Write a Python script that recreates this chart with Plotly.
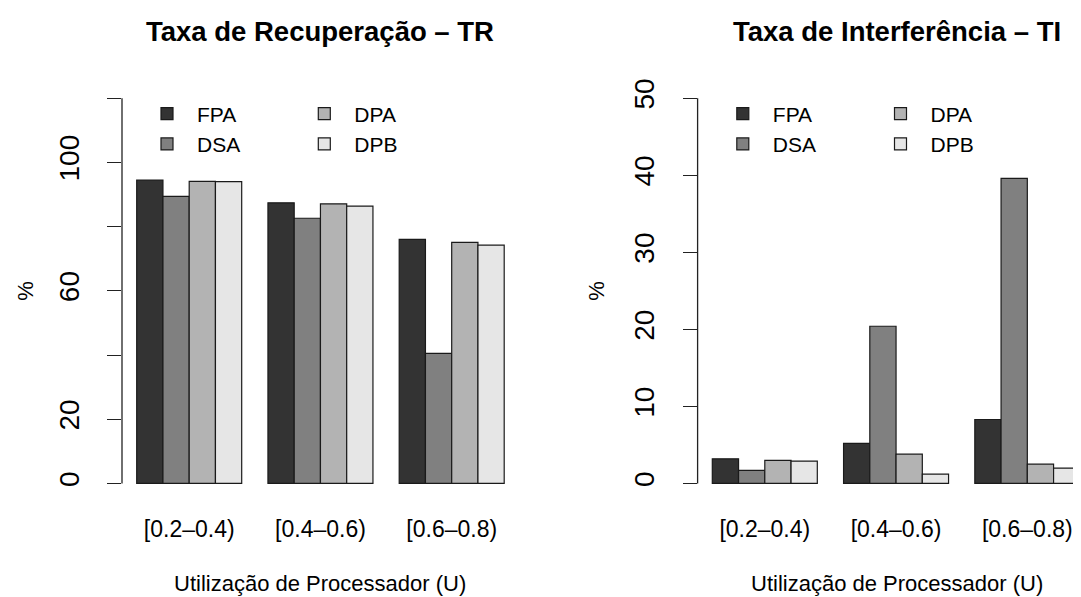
import plotly.graph_objects as go

# ---- data ----
categories = ["[0.2–0.4)", "[0.4–0.6)", "[0.6–0.8)"]
series = ["FPA", "DSA", "DPA", "DPB"]

tr_FPA = [94.5, 87.4, 76.0]
tr_DSA = [89.4, 82.6, 40.5]
tr_DPA = [94.1, 87.1, 75.1]
tr_DPB = [94.0, 86.4, 74.2]

ti_FPA = [3.2, 5.2, 8.3]
ti_DSA = [1.7, 20.4, 39.6]
ti_DPA = [3.0, 3.8, 2.5]
ti_DPB = [2.9, 1.2, 2.0]

tr_tickvals = [0, 20, 40, 60, 80, 100, 120]
tr_ticktext = ["0", "20", "", "60", "", "100", ""]
ti_tickvals = [0, 10, 20, 30, 40, 50]
ti_ticktext = ["0", "10", "20", "30", "40", "50"]

title_tr = "Taxa de Recuperação – TR"
title_ti = "Taxa de Interferência – TI"
xlab = "Utilização de Processador (U)"
ylab = "%"

colors = {"FPA": "#333333", "DSA": "#808080", "DPA": "#B3B3B3", "DPB": "#E6E6E6"}

tr_values = {"FPA": tr_FPA, "DSA": tr_DSA, "DPA": tr_DPA, "DPB": tr_DPB}
ti_values = {"FPA": ti_FPA, "DSA": ti_DSA, "DPA": ti_DPA, "DPB": ti_DPB}

# ---- layout geometry (window pixels; page body has an 8px margin) ----
WIN_W, WIN_H = 1081, 597
OFF = 8
W, H = WIN_W - OFF, WIN_H - OFF
FONT = "Liberation Sans"

def px_x(p):
    return (p - OFF) / W

def px_y(p):
    return 1 - (p - OFF) / H

left_dom = [px_x(122.0), px_x(518.9)]
right_dom = [px_x(697.6), 1.0]
y_dom = [px_y(498.2), px_y(79.2)]

# legend column assignment (R legend ncol=2 fills by column)
col_of = {"FPA": 0, "DSA": 0, "DPA": 1, "DPB": 1}

fig = go.Figure()

for s in series:
    fig.add_trace(go.Bar(
        x=categories, y=tr_values[s], name=s,
        marker=dict(color=colors[s], line=dict(color="#1a1a1a", width=1.2)),
        xaxis="x", yaxis="y",
        legend="legend" if col_of[s] == 0 else "legend2",
        hoverinfo="x+y+name",
    ))
for s in series:
    fig.add_trace(go.Bar(
        x=categories, y=ti_values[s], name=s,
        marker=dict(color=colors[s], line=dict(color="#1a1a1a", width=1.2)),
        xaxis="x2", yaxis="y2",
        legend="legend3" if col_of[s] == 0 else "legend4",
        hoverinfo="x+y+name",
    ))

axis_col = "#222222"
ytick_font = dict(family=FONT, size=28, color="black")
xtick_font = dict(family=FONT, size=23, color="black")

common_x = dict(showline=False, showgrid=False, zeroline=False, ticks="",
                tickfont=xtick_font, ticklabelstandoff=14, fixedrange=True)
common_y = dict(showline=False, showgrid=False, zeroline=False, ticks="outside",
                ticklen=14, tickwidth=1.3, tickcolor=axis_col, tickangle=-90,
                tickfont=ytick_font, ticklabelstandoff=17, fixedrange=True)

legend_font = dict(family=FONT, size=21, color="black")
ITEMW = 50

def legend_cfg(cx, top):
    return dict(x=px_x(cx - (ITEMW + 10) / 2), y=px_y(top), xanchor="left", yanchor="top",
                orientation="v", font=legend_font, bgcolor="rgba(0,0,0,0)",
                borderwidth=0, tracegroupgap=0, itemwidth=ITEMW)

fig.update_layout(
    width=W, height=H, autosize=False,
    margin=dict(l=0, r=0, t=0, b=0),
    paper_bgcolor="white", plot_bgcolor="white",
    font=dict(family=FONT, color="black"),
    barmode="group", bargap=0.2, bargroupgap=0.0,
    xaxis=dict(domain=left_dom, range=[-0.512, 2.512], anchor="y", **common_x),
    yaxis=dict(domain=y_dom, range=[-4.8, 124.8], anchor="x",
               tickvals=tr_tickvals, ticktext=tr_ticktext, **common_y),
    xaxis2=dict(domain=right_dom, range=[-0.512, 2.409], anchor="y2", **common_x),
    yaxis2=dict(domain=y_dom, range=[-2.0, 52.0], anchor="x2",
                tickvals=ti_tickvals, ticktext=ti_ticktext, **common_y),
    legend=legend_cfg(167.0, 90),
    legend2=legend_cfg(324.3, 90),
    legend3=legend_cfg(742.8, 90),
    legend4=legend_cfg(900.5, 90),
    showlegend=True,
)

# y axis lines (R draws them only across the tick span)
fig.add_shape(type="line", xref="x domain", yref="y", x0=0, x1=0,
              y0=tr_tickvals[0], y1=tr_tickvals[-1],
              line=dict(color=axis_col, width=1.3))
fig.add_shape(type="line", xref="x2 domain", yref="y2", x0=0, x1=0,
              y0=ti_tickvals[0], y1=ti_tickvals[-1],
              line=dict(color=axis_col, width=1.3))

left_center = (122.0 + 518.9) / 2
right_center = (697.6 + 1095.5) / 2

ann = []
for cx, t in [(left_center, title_tr), (right_center, title_ti)]:
    ann.append(dict(text="<b>%s</b>" % t, x=px_x(cx), y=px_y(28), xref="paper", yref="paper",
                    xanchor="center", yanchor="middle", showarrow=False,
                    font=dict(family=FONT, size=27.5, color="black")))
for cx in [left_center, right_center]:
    ann.append(dict(text=xlab, x=px_x(cx), y=px_y(583), xref="paper", yref="paper",
                    xanchor="center", yanchor="middle", showarrow=False,
                    font=dict(family=FONT, size=22, color="black")))
for cx in [26, 597]:
    ann.append(dict(text=ylab, x=px_x(cx), y=px_y(288.7), xref="paper", yref="paper",
                    xanchor="center", yanchor="middle", showarrow=False, textangle=-90,
                    font=dict(family=FONT, size=22, color="black")))
fig.update_layout(annotations=ann)

fig.write_html("out.html")
